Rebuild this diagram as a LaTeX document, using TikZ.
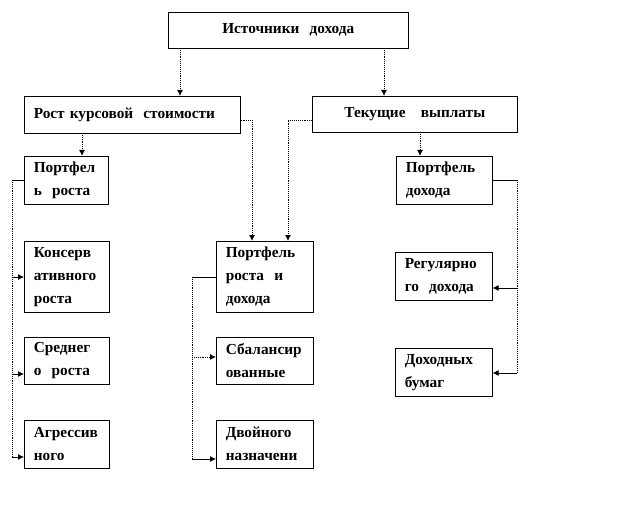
\documentclass[tikz,border=0pt]{standalone}
\usepackage{fontspec}
\setmainfont{Liberation Serif}
\usetikzlibrary{arrows.meta}

\begin{document}
\begin{tikzpicture}[x=1pt,y=-1pt,
  box/.style={draw,line width=0.6pt,anchor=north west,inner xsep=9.5pt,inner ysep=0pt,
    font=\bfseries\fontsize{15.3}{23}\selectfont,align=left},
  link/.style={line width=0.9pt,densely dotted},
  solid link/.style={line width=0.8pt},
  tip/.style={-{Latex[length=6pt,width=6pt]}}]
\useasboundingbox (0,0) rectangle (624,516);

% boxes
\node[box,align=center,text width=221pt,minimum height=36pt] (src) at (168,12) {Источники\ \ дохода};
\node[box,text width=197pt,minimum height=37pt] (growth) at (24,96) {Рост\ курсовой\ \ стоимости};
\node[box,align=center,text width=186pt,minimum height=36pt] (pay) at (312,96) {Текущие\ \ \ выплаты};
\node[box,text width=65pt,minimum height=48pt] (pgrowth) at (24,156) {Портфел\\ь\ \ роста};
\node[box,text width=77pt,minimum height=48pt] (pincome) at (396,156) {Портфель\\дохода};
\node[box,text width=78pt,minimum height=71pt] (pmix) at (216,241) {Портфель\\роста\ \ и\\дохода};
\node[box,text width=66pt,minimum height=71pt] (cons) at (24,241) {Консерв\\ативного\\роста};
\node[box,text width=66pt,minimum height=47pt] (mid) at (24,337) {Среднег\\о\ \ роста};
\node[box,text width=66pt,minimum height=48pt] (aggr) at (24,420) {Агрессив\\ного};
\node[box,text width=78pt,minimum height=47pt] (bal) at (216,337) {Сбалансир\\ованные};
\node[box,text width=78pt,minimum height=48pt] (dual) at (216,420) {Двойного\\назначени};
\node[box,text width=78pt,minimum height=48pt] (reg) at (395,252) {Регулярно\\го\ \ дохода};
\node[box,text width=78pt,minimum height=48pt] (secs) at (395,348) {Доходных\\бумаг};

% turning points
\coordinate (a1) at (180,48);
\coordinate (a2) at (384,48);
\coordinate (b1) at (82,133);
\coordinate (b2) at (420,132);
\coordinate (c1) at (252,120);
\coordinate (c2) at (288,120);
\coordinate (d1) at (12,180);
\coordinate (d2) at (12,277);
\coordinate (d3) at (12,374);
\coordinate (d4) at (12,457);
\coordinate (e1) at (192,277);
\coordinate (e2) at (192,357);
\coordinate (e3) at (192,459);
\coordinate (f1) at (517,180);
\coordinate (f2) at (517,288);
\coordinate (f3) at (517,373);

% from the top
\draw[link,tip] (a1) -- (a1 |- growth.north);
\draw[link,tip] (a2) -- (a2 |- pay.north);
\draw[link,tip] (b1) -- (b1 |- pgrowth.north);
\draw[link,tip] (b2) -- (b2 |- pincome.north);
\draw[link,tip] (growth.east |- c1) -- (c1) -- (c1 |- pmix.north);
\draw[link,tip] (pay.west |- c2) -- (c2) -- (c2 |- pmix.north);

% growth portfolios
\draw[solid link] (pgrowth.west |- d1) -- (d1);
\draw[link] (d1) -- (d4);
\draw[solid link,tip] (d2) -- (d2 -| cons.west);
\draw[solid link,tip] (d3) -- (d3 -| mid.west);
\draw[solid link,tip] (d4) -- (d4 -| aggr.west);

% mixed portfolios
\draw[solid link] (pmix.west |- e1) -- (e1);
\draw[link] (e1) -- (e3);
\draw[link,tip] (e2) -- (e2 -| bal.west);
\draw[solid link,tip] (e3) -- (e3 -| dual.west);

% income portfolios
\draw[solid link] (pincome.east |- f1) -- (f1);
\draw[link] (f1) -- (f3);
\draw[solid link,tip] (f2) -- (f2 -| reg.east);
\draw[solid link,tip] (f3) -- (f3 -| secs.east);
\end{tikzpicture}
\end{document}
